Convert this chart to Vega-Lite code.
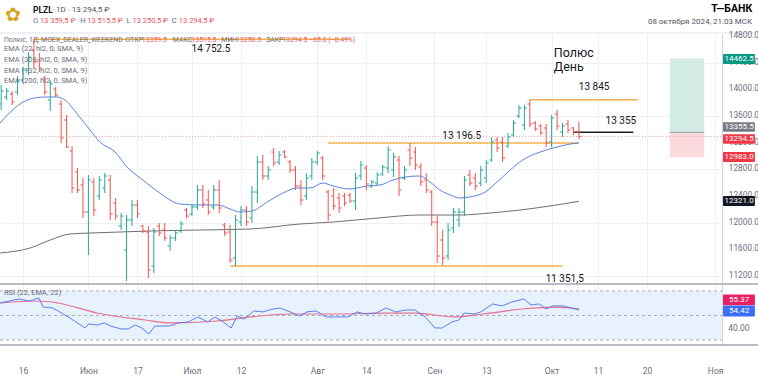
{
"$schema": "https://vega.github.io/schema/vega-lite/v6.json",
"width": 722, "height": 312,
"autosize": {"type": "none"},
"padding": {"left": 0, "top": 33, "right": 36, "bottom": 36},
"background": "white",
"config": {"view": {"stroke": null}, "font": "Roboto", "axis": {"labelOverlap": false, "labelBound": false, "labelFlush": false}},
"data": {"values": [{}]},
"datasets": {
"ticks": [{"v":11200},{"v":11600},{"v":12000},{"v":12400},{"v":12800},{"v":13200},{"v":13600},{"v":14000},{"v":14400},{"v":14800}],
"bars": [
{"i":-4,"o":13780,"h":14065,"l":13690,"c":13975},{"i":-3,"o":13885,"h":14020,"l":13840,"c":13975},{"i":-2,"o":13930,"h":13975,"l":13765,"c":13810},{"i":-1,"o":13960,"h":14200,"l":13915,"c":14140},{"i":0,"o":14140,"h":14335,"l":14095,"c":14290},{"i":1,"o":14290,"h":14560,"l":14215,"c":14485},{"i":2,"o":14590,"h":14752.5,"l":14320,"c":14410},{"i":3,"o":14440,"h":14545,"l":14260,"c":14320},{"i":4,"o":14170,"h":14200,"l":13915,"c":13960},{"i":5,"o":13840,"h":14140,"l":13675,"c":14080},
{"i":6,"o":14005,"h":14035,"l":13885,"c":13915},{"i":7,"o":13780,"h":13840,"l":13195,"c":13270},{"i":8,"o":13540,"h":13615,"l":13120,"c":13135},{"i":9,"o":13075,"h":13150,"l":12445,"c":12520},{"i":10,"o":12760,"h":12820,"l":12445,"c":12490},{"i":11,"o":12565,"h":12670,"l":12070,"c":12160},{"i":12,"o":12160,"h":12715,"l":11515,"c":12640},{"i":13,"o":12610,"h":12670,"l":12100,"c":12190},{"i":14,"o":12400,"h":12700,"l":12340,"c":12640},{"i":15,"o":12520,"h":12745,"l":12445,"c":12700},
{"i":16,"o":12640,"h":12715,"l":12040,"c":12130},{"i":17,"o":12295,"h":12370,"l":12040,"c":12100},{"i":18,"o":11950,"h":12145,"l":11890,"c":12100},{"i":19,"o":11590,"h":12115,"l":11125,"c":12040},{"i":20,"o":12040,"h":12340,"l":11950,"c":12265},{"i":21,"o":12265,"h":12340,"l":12070,"c":12130},{"i":22,"o":11950,"h":11965,"l":11845,"c":11875},{"i":23,"o":11860,"h":11950,"l":11170,"c":11290},{"i":24,"o":11350,"h":11920,"l":11245,"c":11860},{"i":25,"o":11950,"h":11995,"l":11800,"c":11845},
{"i":26,"o":11890,"h":11995,"l":11725,"c":11770},{"i":27,"o":11650,"h":11815,"l":11575,"c":11770},{"i":28,"o":11770,"h":11890,"l":11725,"c":11845},{"i":29,"o":11875,"h":12025,"l":11845,"c":11980},{"i":30,"o":12190,"h":12220,"l":12070,"c":12100},{"i":31,"o":12130,"h":12265,"l":12100,"c":12235},{"i":32,"o":12235,"h":12565,"l":12190,"c":12490},{"i":33,"o":12490,"h":12565,"l":12220,"c":12280},{"i":34,"o":12340,"h":12490,"l":12115,"c":12160},{"i":35,"o":12235,"h":12565,"l":12190,"c":12490},
{"i":36,"o":12490,"h":12640,"l":12145,"c":12220},{"i":37,"o":11965,"h":11995,"l":11800,"c":11845},{"i":38,"o":11860,"h":11965,"l":11395,"c":11440},{"i":39,"o":11470,"h":12115,"l":11351.5,"c":12040},{"i":40,"o":12010,"h":12250,"l":11950,"c":12190},{"i":41,"o":12190,"h":12250,"l":11950,"c":12010},{"i":42,"o":12070,"h":12550,"l":11995,"c":12460},{"i":43,"o":12460,"h":13000,"l":12295,"c":12910},{"i":44,"o":12910,"h":13015,"l":12640,"c":12700},{"i":45,"o":12700,"h":12850,"l":12640,"c":12790},
{"i":46,"o":13060,"h":13120,"l":12850,"c":12895},{"i":47,"o":12910,"h":13075,"l":12865,"c":13015},{"i":48,"o":13060,"h":13090,"l":12970,"c":12985},{"i":49,"o":12910,"h":12940,"l":12745,"c":12790},{"i":50,"o":12790,"h":12850,"l":12490,"c":12550},{"i":51,"o":12550,"h":12640,"l":12265,"c":12340},{"i":52,"o":12400,"h":12745,"l":12340,"c":12670},{"i":53,"o":12700,"h":12970,"l":12640,"c":12910},{"i":54,"o":12910,"h":13075,"l":12865,"c":13045},{"i":55,"o":12970,"h":13000,"l":12640,"c":12700},
{"i":56,"o":12460,"h":12490,"l":12025,"c":12115},{"i":57,"o":12400,"h":12520,"l":12190,"c":12250},{"i":58,"o":12370,"h":12445,"l":12145,"c":12220},{"i":59,"o":12400,"h":12445,"l":12250,"c":12295},{"i":60,"o":12415,"h":12445,"l":12295,"c":12325},{"i":61,"o":12325,"h":12745,"l":12190,"c":12670},{"i":62,"o":12700,"h":12925,"l":12640,"c":12865},{"i":63,"o":12820,"h":12865,"l":12490,"c":12580},{"i":64,"o":12550,"h":12640,"l":12520,"c":12610},{"i":65,"o":12595,"h":12760,"l":12565,"c":12715},
{"i":66,"o":12730,"h":12865,"l":12700,"c":12835},{"i":67,"o":12820,"h":13150,"l":12745,"c":13090},{"i":68,"o":12790,"h":13045,"l":12685,"c":12985},{"i":69,"o":12940,"h":13000,"l":12400,"c":12490},{"i":70,"o":12670,"h":12850,"l":12640,"c":12790},{"i":71,"o":13090,"h":13195,"l":12850,"c":12970},{"i":72,"o":13060,"h":13135,"l":12790,"c":12865},{"i":73,"o":12835,"h":12895,"l":12550,"c":12610},{"i":74,"o":12640,"h":12745,"l":12445,"c":12490},{"i":75,"o":12460,"h":12490,"l":11950,"c":12010},
{"i":76,"o":12010,"h":12100,"l":11395,"c":11500},{"i":77,"o":11740,"h":11890,"l":11360,"c":11470},{"i":78,"o":11500,"h":11995,"l":11440,"c":11890},{"i":79,"o":11920,"h":12220,"l":11845,"c":12160},{"i":80,"o":12040,"h":12220,"l":11935,"c":12160},{"i":81,"o":12160,"h":12700,"l":12100,"c":12640},{"i":82,"o":12715,"h":12790,"l":12550,"c":12595},{"i":83,"o":12670,"h":12745,"l":12490,"c":12550},{"i":84,"o":12595,"h":12850,"l":12550,"c":12790},{"i":85,"o":12670,"h":12940,"l":12595,"c":12895},
{"i":86,"o":12940,"h":13285,"l":12910,"c":13210},{"i":87,"o":13240,"h":13285,"l":13060,"c":13120},{"i":88,"o":13210,"h":13285,"l":12910,"c":12970},{"i":89,"o":13150,"h":13345,"l":13120,"c":13285},{"i":90,"o":13315,"h":13540,"l":13285,"c":13495},{"i":91,"o":13600,"h":13765,"l":13570,"c":13720},{"i":92,"o":13465,"h":13765,"l":13390,"c":13720},{"i":93,"o":13780,"h":13845,"l":13435,"c":13480},{"i":94,"o":13495,"h":13525,"l":13375,"c":13405},{"i":95,"o":13450,"h":13480,"l":13315,"c":13345},
{"i":96,"o":13420,"h":13480,"l":13135,"c":13195},{"i":97,"o":13210,"h":13615,"l":13135,"c":13570},{"i":98,"o":13630,"h":13690,"l":13390,"c":13450},{"i":99,"o":13360,"h":13495,"l":13285,"c":13450},{"i":100,"o":13480,"h":13540,"l":13345,"c":13390},{"i":101,"o":13420,"h":13435,"l":13315,"c":13360},{"i":102,"o":13359.5,"h":13515.5,"l":13250.5,"c":13294.5}
],
"ema22": [{"i":-4.2,"p":13495},{"i":-1.5,"p":13720},{"i":1.3,"p":13855},{"i":4,"p":13885},{"i":6.2,"p":13885},{"i":7.7,"p":13840},{"i":10.1,"p":13615},{"i":12.3,"p":13390},{"i":14.1,"p":13210},{"i":16.9,"p":13060},{"i":19.1,"p":12835},{"i":22,"p":12640},{"i":25.1,"p":12445},{"i":28.8,"p":12280},{"i":32.5,"p":12265},{"i":35.8,"p":12265},{"i":38,"p":12205},{"i":39.8,"p":12160},{"i":42,"p":12175},{"i":44.8,"p":12310},{"i":47.7,"p":12445},{"i":50.3,"p":12520},{"i":52.7,"p":12520},{"i":55,"p":12595},{"i":56.9,"p":12550},{"i":60,"p":12505},{"i":63.1,"p":12550},{"i":65.5,"p":12565},{"i":67.9,"p":12640},{"i":70.1,"p":12685},{"i":72.8,"p":12700},{"i":74.7,"p":12610},{"i":76.5,"p":12490},{"i":78.4,"p":12415},{"i":80.2,"p":12370},{"i":82,"p":12385},{"i":84.8,"p":12460},{"i":87,"p":12610},{"i":89.4,"p":12790},{"i":91.7,"p":12940},{"i":94.9,"p":13060},{"i":98,"p":13135},{"i":100.4,"p":13180},{"i":102,"p":13195}],
"ema200": [{"i":-4.2,"p":11545},{"i":1.3,"p":11620},{"i":5,"p":11740},{"i":8.6,"p":11830},{"i":12.3,"p":11845},{"i":17.8,"p":11860},{"i":23.3,"p":11875},{"i":32.5,"p":11890},{"i":41.7,"p":11905},{"i":50.8,"p":11980},{"i":56.9,"p":12010},{"i":65.1,"p":12070},{"i":72.8,"p":12115},{"i":80.2,"p":12115},{"i":85.7,"p":12145},{"i":91.2,"p":12190},{"i":96.7,"p":12250},{"i":102,"p":12321}],
"rsi": [{"i":-4.2,"v":60.2},{"i":-0.7,"v":63.5},{"i":1.1,"v":61.8},{"i":2.9,"v":64.3},{"i":3.7,"v":56.9},{"i":5.5,"v":56.1},{"i":8.3,"v":48.8},{"i":11.4,"v":39.8},{"i":12.1,"v":43.1},{"i":13.6,"v":42.2},{"i":14.9,"v":43.9},{"i":16.1,"v":41.4},{"i":18,"v":39},{"i":19.3,"v":39},{"i":20.6,"v":42.2},{"i":21.8,"v":39.8},{"i":23.1,"v":34.9},{"i":24.2,"v":41.4},{"i":26.8,"v":41.4},{"i":28.6,"v":43.9},{"i":30.3,"v":44.7},{"i":32.1,"v":48.8},{"i":33.9,"v":44.7},{"i":35.2,"v":48.8},{"i":36.5,"v":45.5},{"i":38.2,"v":39.8},{"i":39.3,"v":49.6},{"i":40.6,"v":47.1},{"i":42.4,"v":53.7},{"i":44,"v":52.9},{"i":45.9,"v":55.3},{"i":47.2,"v":56.1},{"i":49,"v":52.9},{"i":50.8,"v":49.6},{"i":52.1,"v":52.9},{"i":53.8,"v":53.7},{"i":55.6,"v":48.8},{"i":57.6,"v":48.8},{"i":59.6,"v":48.8},{"i":61.3,"v":52.9},{"i":62.8,"v":51.2},{"i":64.8,"v":52},{"i":66.6,"v":56.1},{"i":68.4,"v":52.9},{"i":70.3,"v":54.5},{"i":71.9,"v":54.5},{"i":73.8,"v":48.8},{"i":75.6,"v":39.8},{"i":76.9,"v":39.8},{"i":78.7,"v":44.7},{"i":80,"v":46.3},{"i":80.9,"v":52},{"i":82.8,"v":51.2},{"i":84,"v":52.9},{"i":86.2,"v":59.4},{"i":87.9,"v":57.8},{"i":89.7,"v":61},{"i":91.9,"v":63.5},{"i":93.2,"v":58.6},{"i":94.7,"v":59.4},{"i":96,"v":55.3},{"i":97.2,"v":57.8},{"i":99.1,"v":57.8},{"i":102,"v":54.42}],
"rsiema": [{"i":-4.2,"v":60.2},{"i":2.9,"v":61.8},{"i":6.4,"v":60.2},{"i":13.6,"v":52},{"i":22.4,"v":46.3},{"i":26.8,"v":43.9},{"i":35.6,"v":45.5},{"i":41.8,"v":48.8},{"i":49,"v":51.2},{"i":57.8,"v":51.2},{"i":66.6,"v":52},{"i":71.9,"v":52},{"i":79.1,"v":48.8},{"i":84.4,"v":51.2},{"i":91.6,"v":55.3},{"i":97.8,"v":56.9},{"i":102,"v":55.37}]
},
"resolve": {"scale": {"y": "independent"}},
"layer": [
{
"layer": [
{"data": {"name": "bars"}, "mark": {"type": "rule", "opacity": 0},
 "encoding": {
  "x": {"field": "i", "type": "quantitative", "scale": {"domain": [-4.22, 128.26], "nice": false, "zero": false},
   "axis": {"values": [0, 12, 21, 31, 40, 54, 63, 75.5, 85, 97, 105.5, 114.5, 127], "labelExpr": "datum.value==0?'16':datum.value==12?'Июн':datum.value==21?'17':datum.value==31?'Июл':datum.value==40?'12':datum.value==54?'Авг':datum.value==63?'14':datum.value==75.5?'Сен':datum.value==85?'13':datum.value==97?'Окт':datum.value==105.5?'11':datum.value==114.5?'20':'Ноя'", "title": null, "grid": true, "gridColor": "#eef0f4", "domain": false, "ticks": false, "labelPadding": 21, "labelFontSize": 8.5, "labelColor": "#6a6d78", "labelFlush": false, "labelOverlap": false, "zindex": 0}},
  "y": {"field": "h", "type": "quantitative", "scale": {"domain": [10165, 14845], "nice": false, "zero": false},
   "axis": {"orient": "right", "values": [11200, 11600, 12000, 12400, 12800, 13200, 13600, 14000, 14400, 14800], "labels": false, "title": null, "grid": true, "gridColor": "#eef0f4", "domainColor": "#d1d4dc", "ticks": false, "zindex": 0}}}},
{"mark": {"type": "rect", "color": "#d2ebe5"},
 "encoding": {"x": {"datum": 118.7, "type": "quantitative", "scale": {"domain": [-4.22, 128.26], "nice": false, "zero": false}}, "x2": {"datum": 125}, "y": {"datum": 13355.5, "type": "quantitative", "scale": {"domain": [10165, 14845], "nice": false, "zero": false}}, "y2": {"datum": 14462.5}}},
{"mark": {"type": "rect", "color": "#fcd9dc"},
 "encoding": {"x": {"datum": 118.7, "type": "quantitative", "scale": {"domain": [-4.22, 128.26], "nice": false, "zero": false}}, "x2": {"datum": 125}, "y": {"datum": 12983, "type": "quantitative", "scale": {"domain": [10165, 14845], "nice": false, "zero": false}}, "y2": {"datum": 13355.5}}},
{"mark": {"type": "rule", "color": "#9598a1", "strokeWidth": 1},
 "encoding": {"x": {"datum": 118.7, "type": "quantitative", "scale": {"domain": [-4.22, 128.26], "nice": false, "zero": false}}, "x2": {"datum": 125}, "y": {"datum": 13355.5, "type": "quantitative", "scale": {"domain": [10165, 14845], "nice": false, "zero": false}}}},
{"mark": {"type": "rule", "color": "#f29ba3", "strokeWidth": 1, "strokeDash": [1, 2]},
 "encoding": {"x": {"datum": -4.22, "type": "quantitative", "scale": {"domain": [-4.22, 128.26], "nice": false, "zero": false}}, "x2": {"datum": 128.26}, "y": {"datum": 13294.5, "type": "quantitative", "scale": {"domain": [10165, 14845], "nice": false, "zero": false}}}},
{"mark": {"type": "rule", "color": "#f5b04b", "strokeWidth": 1.5},
 "encoding": {"x": {"datum": 2, "type": "quantitative", "scale": {"domain": [-4.22, 128.26], "nice": false, "zero": false}}, "x2": {"datum": 60}, "y": {"datum": 14752.5, "type": "quantitative", "scale": {"domain": [10165, 14845], "nice": false, "zero": false}}}},
{"mark": {"type": "rule", "color": "#f5b04b", "strokeWidth": 1.5},
 "encoding": {"x": {"datum": 56, "type": "quantitative", "scale": {"domain": [-4.22, 128.26], "nice": false, "zero": false}}, "x2": {"datum": 102}, "y": {"datum": 13196.5, "type": "quantitative", "scale": {"domain": [10165, 14845], "nice": false, "zero": false}}}},
{"mark": {"type": "rule", "color": "#f5b04b", "strokeWidth": 1.5},
 "encoding": {"x": {"datum": 38, "type": "quantitative", "scale": {"domain": [-4.22, 128.26], "nice": false, "zero": false}}, "x2": {"datum": 99}, "y": {"datum": 11351.5, "type": "quantitative", "scale": {"domain": [10165, 14845], "nice": false, "zero": false}}}},
{"mark": {"type": "rule", "color": "#f5b04b", "strokeWidth": 1.5},
 "encoding": {"x": {"datum": 93, "type": "quantitative", "scale": {"domain": [-4.22, 128.26], "nice": false, "zero": false}}, "x2": {"datum": 112.8}, "y": {"datum": 13845, "type": "quantitative", "scale": {"domain": [10165, 14845], "nice": false, "zero": false}}}},
{"mark": {"type": "rule", "color": "#1e1e1e", "strokeWidth": 1.5},
 "encoding": {"x": {"datum": 101, "type": "quantitative", "scale": {"domain": [-4.22, 128.26], "nice": false, "zero": false}}, "x2": {"datum": 112}, "y": {"datum": 13355, "type": "quantitative", "scale": {"domain": [10165, 14845], "nice": false, "zero": false}}}},
{"data": {"name": "ema200"}, "mark": {"type": "line", "color": "#6f6f6f", "strokeWidth": 1, "interpolate": "monotone"},
 "encoding": {"x": {"field": "i", "type": "quantitative", "scale": {"domain": [-4.22, 128.26], "nice": false, "zero": false}}, "y": {"field": "p", "type": "quantitative", "scale": {"domain": [10165, 14845], "nice": false, "zero": false}}}},
{"data": {"name": "ema22"}, "mark": {"type": "line", "color": "#5a82e0", "strokeWidth": 1, "interpolate": "monotone"},
 "encoding": {"x": {"field": "i", "type": "quantitative", "scale": {"domain": [-4.22, 128.26], "nice": false, "zero": false}}, "y": {"field": "p", "type": "quantitative", "scale": {"domain": [10165, 14845], "nice": false, "zero": false}}}},
{"data": {"name": "bars"}, "mark": {"type": "rule", "strokeWidth": 1},
 "encoding": {
  "x": {"field": "i", "type": "quantitative", "scale": {"domain": [-4.22, 128.26], "nice": false, "zero": false}},
  "y": {"field": "h", "type": "quantitative", "scale": {"domain": [10165, 14845], "nice": false, "zero": false}},
  "y2": {"field": "l"},
  "color": {"condition": {"test": "datum.c >= datum.o", "value": "#26a69a"}, "value": "#ef5350"}}},
{"data": {"name": "bars"}, "mark": {"type": "rule", "strokeWidth": 1, "xOffset": -2.5, "x2Offset": 0},
 "encoding": {"x": {"field": "i", "type": "quantitative", "scale": {"domain": [-4.22, 128.26], "nice": false, "zero": false}}, "x2": {"field": "i"}, "y": {"field": "o", "type": "quantitative", "scale": {"domain": [10165, 14845], "nice": false, "zero": false}},
  "color": {"condition": {"test": "datum.c >= datum.o", "value": "#26a69a"}, "value": "#ef5350"}}},
{"data": {"name": "bars"}, "mark": {"type": "rule", "strokeWidth": 1, "xOffset": 0, "x2Offset": 2.5},
 "encoding": {"x": {"field": "i", "type": "quantitative", "scale": {"domain": [-4.22, 128.26], "nice": false, "zero": false}}, "x2": {"field": "i"}, "y": {"field": "c", "type": "quantitative", "scale": {"domain": [10165, 14845], "nice": false, "zero": false}},
  "color": {"condition": {"test": "datum.c >= datum.o", "value": "#26a69a"}, "value": "#ef5350"}}},
{"mark": {"type": "rule", "color": "#e0e3eb", "strokeWidth": 1},
 "encoding": {"x": {"datum": -4.22, "type": "quantitative", "scale": {"domain": [-4.22, 128.26], "nice": false, "zero": false}}, "x2": {"datum": 134.9}, "y": {"datum": 14845, "type": "quantitative", "scale": {"domain": [10165, 14845], "nice": false, "zero": false}}}},
{"mark": {"type": "rule", "color": "#a3a6af", "strokeWidth": 1.5},
 "encoding": {"x": {"datum": -4.22, "type": "quantitative", "scale": {"domain": [-4.22, 128.26], "nice": false, "zero": false}}, "x2": {"datum": 134.9}, "y": {"datum": 11080, "type": "quantitative", "scale": {"domain": [10165, 14845], "nice": false, "zero": false}}}},
{"mark": {"type": "rule", "color": "#a3a6af", "strokeWidth": 1.5},
 "encoding": {"x": {"datum": -4.22, "type": "quantitative", "scale": {"domain": [-4.22, 128.26], "nice": false, "zero": false}}, "x2": {"datum": 134.9}, "y": {"datum": 10165, "type": "quantitative", "scale": {"domain": [10165, 14845], "nice": false, "zero": false}}}},
{"data": {"name": "ticks"}, "mark": {"type": "text", "fontSize": 8.3, "color": "#6a6d78", "align": "left", "baseline": "middle"},
 "encoding": {"x": {"datum": 129.5, "type": "quantitative", "scale": {"domain": [-4.22, 128.26], "nice": false, "zero": false}}, "y": {"field": "v", "type": "quantitative", "scale": {"domain": [10165, 14845], "nice": false, "zero": false}}, "text": {"field": "v", "type": "quantitative", "format": ".1f"}}},
{"mark": {"type": "text", "text": "✿", "fontSize": 19, "color": "#d9a520", "align": "center", "baseline": "middle"},
 "encoding": {"x": {"datum": -1.83, "type": "quantitative", "scale": {"domain": [-4.22, 128.26], "nice": false, "zero": false}}, "y": {"datum": 15115, "type": "quantitative", "scale": {"domain": [10165, 14845], "nice": false, "zero": false}}}},
{"mark": {"type": "text", "text": "PLZL", "fontSize": 8.5, "fontWeight": "bold", "color": "#131722", "align": "left", "baseline": "middle"},
 "encoding": {"x": {"datum": 1.83, "type": "quantitative", "scale": {"domain": [-4.22, 128.26], "nice": false, "zero": false}}, "y": {"datum": 15190, "type": "quantitative", "scale": {"domain": [10165, 14845], "nice": false, "zero": false}}}},
{"mark": {"type": "text", "text": "· 1D · 13 294,5 ₽", "fontSize": 8, "color": "#50535e", "align": "left", "baseline": "middle"},
 "encoding": {"x": {"datum": 5.3, "type": "quantitative", "scale": {"domain": [-4.22, 128.26], "nice": false, "zero": false}}, "y": {"datum": 15190, "type": "quantitative", "scale": {"domain": [10165, 14845], "nice": false, "zero": false}}}},
{"mark": {"type": "text", "text": "O", "fontSize": 7.5, "color": "#5d6b8a", "align": "left", "baseline": "middle"},
 "encoding": {"x": {"datum": 1.83, "type": "quantitative", "scale": {"domain": [-4.22, 128.26], "nice": false, "zero": false}}, "y": {"datum": 15025, "type": "quantitative", "scale": {"domain": [10165, 14845], "nice": false, "zero": false}}}},
{"mark": {"type": "text", "text": "13 359,5 ₽", "fontSize": 7.5, "color": "#e8535f", "align": "left", "baseline": "middle"},
 "encoding": {"x": {"datum": 3.1, "type": "quantitative", "scale": {"domain": [-4.22, 128.26], "nice": false, "zero": false}}, "y": {"datum": 15025, "type": "quantitative", "scale": {"domain": [10165, 14845], "nice": false, "zero": false}}}},
{"mark": {"type": "text", "text": "H", "fontSize": 7.5, "color": "#5d6b8a", "align": "left", "baseline": "middle"},
 "encoding": {"x": {"datum": 10.5, "type": "quantitative", "scale": {"domain": [-4.22, 128.26], "nice": false, "zero": false}}, "y": {"datum": 15025, "type": "quantitative", "scale": {"domain": [10165, 14845], "nice": false, "zero": false}}}},
{"mark": {"type": "text", "text": "13 515,5 ₽", "fontSize": 7.5, "color": "#e8535f", "align": "left", "baseline": "middle"},
 "encoding": {"x": {"datum": 11.8, "type": "quantitative", "scale": {"domain": [-4.22, 128.26], "nice": false, "zero": false}}, "y": {"datum": 15025, "type": "quantitative", "scale": {"domain": [10165, 14845], "nice": false, "zero": false}}}},
{"mark": {"type": "text", "text": "L", "fontSize": 7.5, "color": "#5d6b8a", "align": "left", "baseline": "middle"},
 "encoding": {"x": {"datum": 19, "type": "quantitative", "scale": {"domain": [-4.22, 128.26], "nice": false, "zero": false}}, "y": {"datum": 15025, "type": "quantitative", "scale": {"domain": [10165, 14845], "nice": false, "zero": false}}}},
{"mark": {"type": "text", "text": "13 250,5 ₽", "fontSize": 7.5, "color": "#e8535f", "align": "left", "baseline": "middle"},
 "encoding": {"x": {"datum": 20.1, "type": "quantitative", "scale": {"domain": [-4.22, 128.26], "nice": false, "zero": false}}, "y": {"datum": 15025, "type": "quantitative", "scale": {"domain": [10165, 14845], "nice": false, "zero": false}}}},
{"mark": {"type": "text", "text": "C", "fontSize": 7.5, "color": "#5d6b8a", "align": "left", "baseline": "middle"},
 "encoding": {"x": {"datum": 27.3, "type": "quantitative", "scale": {"domain": [-4.22, 128.26], "nice": false, "zero": false}}, "y": {"datum": 15025, "type": "quantitative", "scale": {"domain": [10165, 14845], "nice": false, "zero": false}}}},
{"mark": {"type": "text", "text": "13 294,5 ₽", "fontSize": 7.5, "color": "#e8535f", "align": "left", "baseline": "middle"},
 "encoding": {"x": {"datum": 28.6, "type": "quantitative", "scale": {"domain": [-4.22, 128.26], "nice": false, "zero": false}}, "y": {"datum": 15025, "type": "quantitative", "scale": {"domain": [10165, 14845], "nice": false, "zero": false}}}},
{"mark": {"type": "text", "text": "Т—БАНК", "fontSize": 10.5, "fontWeight": "bold", "color": "#000000", "align": "right", "baseline": "middle"},
 "encoding": {"x": {"datum": 133.8, "type": "quantitative", "scale": {"domain": [-4.22, 128.26], "nice": false, "zero": false}}, "y": {"datum": 15205, "type": "quantitative", "scale": {"domain": [10165, 14845], "nice": false, "zero": false}}}},
{"mark": {"type": "text", "text": "08 октября 2024, 21:03 МСК", "fontSize": 8, "color": "#50535e", "align": "right", "baseline": "middle"},
 "encoding": {"x": {"datum": 133.8, "type": "quantitative", "scale": {"domain": [-4.22, 128.26], "nice": false, "zero": false}}, "y": {"datum": 15010, "type": "quantitative", "scale": {"domain": [10165, 14845], "nice": false, "zero": false}}}},
{"mark": {"type": "text", "text": "Полюс, 1Д, MOEX_DEALER_WEEKEND", "fontSize": 6.9, "color": "#6a6d78", "align": "left", "baseline": "middle"},
 "encoding": {"x": {"datum": -3.5, "type": "quantitative", "scale": {"domain": [-4.22, 128.26], "nice": false, "zero": false}}, "y": {"datum": 14740, "type": "quantitative", "scale": {"domain": [10165, 14845], "nice": false, "zero": false}}}},
{"mark": {"type": "text", "text": "ОТКР", "fontSize": 6.9, "color": "#6a6d78", "align": "left", "baseline": "middle"},
 "encoding": {"x": {"datum": 18.8, "type": "quantitative", "scale": {"domain": [-4.22, 128.26], "nice": false, "zero": false}}, "y": {"datum": 14740, "type": "quantitative", "scale": {"domain": [10165, 14845], "nice": false, "zero": false}}}},
{"mark": {"type": "text", "text": "13359.5", "fontSize": 6.9, "color": "#e8606b", "align": "left", "baseline": "middle"},
 "encoding": {"x": {"datum": 21.8, "type": "quantitative", "scale": {"domain": [-4.22, 128.26], "nice": false, "zero": false}}, "y": {"datum": 14740, "type": "quantitative", "scale": {"domain": [10165, 14845], "nice": false, "zero": false}}}},
{"mark": {"type": "text", "text": "МАКС", "fontSize": 6.9, "color": "#6a6d78", "align": "left", "baseline": "middle"},
 "encoding": {"x": {"datum": 27.5, "type": "quantitative", "scale": {"domain": [-4.22, 128.26], "nice": false, "zero": false}}, "y": {"datum": 14740, "type": "quantitative", "scale": {"domain": [10165, 14845], "nice": false, "zero": false}}}},
{"mark": {"type": "text", "text": "13515.5", "fontSize": 6.9, "color": "#e8606b", "align": "left", "baseline": "middle"},
 "encoding": {"x": {"datum": 30.9, "type": "quantitative", "scale": {"domain": [-4.22, 128.26], "nice": false, "zero": false}}, "y": {"datum": 14740, "type": "quantitative", "scale": {"domain": [10165, 14845], "nice": false, "zero": false}}}},
{"mark": {"type": "text", "text": "МИН", "fontSize": 6.9, "color": "#6a6d78", "align": "left", "baseline": "middle"},
 "encoding": {"x": {"datum": 36.4, "type": "quantitative", "scale": {"domain": [-4.22, 128.26], "nice": false, "zero": false}}, "y": {"datum": 14740, "type": "quantitative", "scale": {"domain": [10165, 14845], "nice": false, "zero": false}}}},
{"mark": {"type": "text", "text": "13250.5", "fontSize": 6.9, "color": "#e8606b", "align": "left", "baseline": "middle"},
 "encoding": {"x": {"datum": 39.1, "type": "quantitative", "scale": {"domain": [-4.22, 128.26], "nice": false, "zero": false}}, "y": {"datum": 14740, "type": "quantitative", "scale": {"domain": [10165, 14845], "nice": false, "zero": false}}}},
{"mark": {"type": "text", "text": "ЗАКР", "fontSize": 6.9, "color": "#6a6d78", "align": "left", "baseline": "middle"},
 "encoding": {"x": {"datum": 44.6, "type": "quantitative", "scale": {"domain": [-4.22, 128.26], "nice": false, "zero": false}}, "y": {"datum": 14740, "type": "quantitative", "scale": {"domain": [10165, 14845], "nice": false, "zero": false}}}},
{"mark": {"type": "text", "text": "13294.5  −65.0 (−0.49%)", "fontSize": 6.9, "color": "#e8606b", "align": "left", "baseline": "middle"},
 "encoding": {"x": {"datum": 47.6, "type": "quantitative", "scale": {"domain": [-4.22, 128.26], "nice": false, "zero": false}}, "y": {"datum": 14740, "type": "quantitative", "scale": {"domain": [10165, 14845], "nice": false, "zero": false}}}},
{"mark": {"type": "text", "text": "EMA (22, hl2, 0, SMA, 9)", "fontSize": 7.5, "color": "#6a6d78", "align": "left", "baseline": "middle"},
 "encoding": {"x": {"datum": -3.5, "type": "quantitative", "scale": {"domain": [-4.22, 128.26], "nice": false, "zero": false}}, "y": {"datum": 14605, "type": "quantitative", "scale": {"domain": [10165, 14845], "nice": false, "zero": false}}}},
{"mark": {"type": "text", "text": "EMA (308, hl2, 0, SMA, 9)", "fontSize": 7.5, "color": "#6a6d78", "align": "left", "baseline": "middle"},
 "encoding": {"x": {"datum": -3.5, "type": "quantitative", "scale": {"domain": [-4.22, 128.26], "nice": false, "zero": false}}, "y": {"datum": 14440, "type": "quantitative", "scale": {"domain": [10165, 14845], "nice": false, "zero": false}}}},
{"mark": {"type": "text", "text": "EMA (132, hl2, 0, SMA, 9)", "fontSize": 7.5, "color": "#6a6d78", "align": "left", "baseline": "middle"},
 "encoding": {"x": {"datum": -3.5, "type": "quantitative", "scale": {"domain": [-4.22, 128.26], "nice": false, "zero": false}}, "y": {"datum": 14282, "type": "quantitative", "scale": {"domain": [10165, 14845], "nice": false, "zero": false}}}},
{"mark": {"type": "text", "text": "EMA (200, hl2, 0, SMA, 9)", "fontSize": 7.5, "color": "#6a6d78", "align": "left", "baseline": "middle"},
 "encoding": {"x": {"datum": -3.5, "type": "quantitative", "scale": {"domain": [-4.22, 128.26], "nice": false, "zero": false}}, "y": {"datum": 14125, "type": "quantitative", "scale": {"domain": [10165, 14845], "nice": false, "zero": false}}}},
{"mark": {"type": "text", "text": "14 752.5", "fontSize": 10, "color": "#131722", "align": "center", "baseline": "middle"},
 "encoding": {"x": {"datum": 34.5, "type": "quantitative", "scale": {"domain": [-4.22, 128.26], "nice": false, "zero": false}}, "y": {"datum": 14605, "type": "quantitative", "scale": {"domain": [10165, 14845], "nice": false, "zero": false}}}},
{"mark": {"type": "text", "text": "13 196.5", "fontSize": 10, "color": "#131722", "align": "center", "baseline": "middle"},
 "encoding": {"x": {"datum": 80.5, "type": "quantitative", "scale": {"domain": [-4.22, 128.26], "nice": false, "zero": false}}, "y": {"datum": 13300, "type": "quantitative", "scale": {"domain": [10165, 14845], "nice": false, "zero": false}}}},
{"mark": {"type": "text", "text": "11 351,5", "fontSize": 10, "color": "#131722", "align": "center", "baseline": "middle"},
 "encoding": {"x": {"datum": 99.4, "type": "quantitative", "scale": {"domain": [-4.22, 128.26], "nice": false, "zero": false}}, "y": {"datum": 11160, "type": "quantitative", "scale": {"domain": [10165, 14845], "nice": false, "zero": false}}}},
{"mark": {"type": "text", "text": "13 845", "fontSize": 10, "color": "#131722", "align": "center", "baseline": "middle"},
 "encoding": {"x": {"datum": 104.8, "type": "quantitative", "scale": {"domain": [-4.22, 128.26], "nice": false, "zero": false}}, "y": {"datum": 14035, "type": "quantitative", "scale": {"domain": [10165, 14845], "nice": false, "zero": false}}}},
{"mark": {"type": "text", "text": "13 355", "fontSize": 10, "color": "#131722", "align": "center", "baseline": "middle"},
 "encoding": {"x": {"datum": 109.7, "type": "quantitative", "scale": {"domain": [-4.22, 128.26], "nice": false, "zero": false}}, "y": {"datum": 13525, "type": "quantitative", "scale": {"domain": [10165, 14845], "nice": false, "zero": false}}}},
{"mark": {"type": "text", "text": "Полюс", "fontSize": 12.5, "color": "#131722", "align": "left", "baseline": "middle"},
 "encoding": {"x": {"datum": 97.4, "type": "quantitative", "scale": {"domain": [-4.22, 128.26], "nice": false, "zero": false}}, "y": {"datum": 14545, "type": "quantitative", "scale": {"domain": [10165, 14845], "nice": false, "zero": false}}}},
{"mark": {"type": "text", "text": "День", "fontSize": 12.5, "color": "#131722", "align": "left", "baseline": "middle"},
 "encoding": {"x": {"datum": 97.4, "type": "quantitative", "scale": {"domain": [-4.22, 128.26], "nice": false, "zero": false}}, "y": {"datum": 14335, "type": "quantitative", "scale": {"domain": [10165, 14845], "nice": false, "zero": false}}}},
{"mark": {"type": "rect", "color": "#089981", "cornerRadius": 1},
 "encoding": {"x": {"datum": 128.45, "type": "quantitative", "scale": {"domain": [-4.22, 128.26], "nice": false, "zero": false}}, "x2": {"datum": 134.3}, "y": {"datum": 14380, "type": "quantitative", "scale": {"domain": [10165, 14845], "nice": false, "zero": false}}, "y2": {"datum": 14530}}},
{"mark": {"type": "rect", "color": "#787b86", "cornerRadius": 1},
 "encoding": {"x": {"datum": 128.45, "type": "quantitative", "scale": {"domain": [-4.22, 128.26], "nice": false, "zero": false}}, "x2": {"datum": 134.3}, "y": {"datum": 13362, "type": "quantitative", "scale": {"domain": [10165, 14845], "nice": false, "zero": false}}, "y2": {"datum": 13508}}},
{"mark": {"type": "rect", "color": "#f23645", "cornerRadius": 1},
 "encoding": {"x": {"datum": 128.45, "type": "quantitative", "scale": {"domain": [-4.22, 128.26], "nice": false, "zero": false}}, "x2": {"datum": 134.3}, "y": {"datum": 13182, "type": "quantitative", "scale": {"domain": [10165, 14845], "nice": false, "zero": false}}, "y2": {"datum": 13328}}},
{"mark": {"type": "rect", "color": "#f23645", "cornerRadius": 1},
 "encoding": {"x": {"datum": 128.45, "type": "quantitative", "scale": {"domain": [-4.22, 128.26], "nice": false, "zero": false}}, "x2": {"datum": 134.3}, "y": {"datum": 12910, "type": "quantitative", "scale": {"domain": [10165, 14845], "nice": false, "zero": false}}, "y2": {"datum": 13060}}},
{"mark": {"type": "rect", "color": "#131722", "cornerRadius": 1},
 "encoding": {"x": {"datum": 128.45, "type": "quantitative", "scale": {"domain": [-4.22, 128.26], "nice": false, "zero": false}}, "x2": {"datum": 134.3}, "y": {"datum": 12250, "type": "quantitative", "scale": {"domain": [10165, 14845], "nice": false, "zero": false}}, "y2": {"datum": 12400}}},
{"mark": {"type": "text", "text": "14462.5", "fontSize": 8, "color": "#ffffff", "align": "center", "baseline": "middle"},
 "encoding": {"x": {"datum": 131.4, "type": "quantitative", "scale": {"domain": [-4.22, 128.26], "nice": false, "zero": false}}, "y": {"datum": 14455, "type": "quantitative", "scale": {"domain": [10165, 14845], "nice": false, "zero": false}}}},
{"mark": {"type": "text", "text": "13355.5", "fontSize": 8, "color": "#ffffff", "align": "center", "baseline": "middle"},
 "encoding": {"x": {"datum": 131.4, "type": "quantitative", "scale": {"domain": [-4.22, 128.26], "nice": false, "zero": false}}, "y": {"datum": 13435, "type": "quantitative", "scale": {"domain": [10165, 14845], "nice": false, "zero": false}}}},
{"mark": {"type": "text", "text": "13294.5", "fontSize": 8, "color": "#ffffff", "align": "center", "baseline": "middle"},
 "encoding": {"x": {"datum": 131.4, "type": "quantitative", "scale": {"domain": [-4.22, 128.26], "nice": false, "zero": false}}, "y": {"datum": 13255, "type": "quantitative", "scale": {"domain": [10165, 14845], "nice": false, "zero": false}}}},
{"mark": {"type": "text", "text": "12983.0", "fontSize": 8, "color": "#ffffff", "align": "center", "baseline": "middle"},
 "encoding": {"x": {"datum": 131.4, "type": "quantitative", "scale": {"domain": [-4.22, 128.26], "nice": false, "zero": false}}, "y": {"datum": 12985, "type": "quantitative", "scale": {"domain": [10165, 14845], "nice": false, "zero": false}}}},
{"mark": {"type": "text", "text": "12321.0", "fontSize": 8, "color": "#ffffff", "align": "center", "baseline": "middle"},
 "encoding": {"x": {"datum": 131.4, "type": "quantitative", "scale": {"domain": [-4.22, 128.26], "nice": false, "zero": false}}, "y": {"datum": 12325, "type": "quantitative", "scale": {"domain": [10165, 14845], "nice": false, "zero": false}}}}
]
},
{
"layer": [
{"mark": {"type": "rect", "color": "#e3f0fc", "opacity": 0.85},
 "encoding": {"x": {"datum": -4.22, "type": "quantitative", "scale": {"domain": [-4.22, 128.26], "nice": false, "zero": false}}, "x2": {"datum": 128.26}, "y": {"datum": 30, "type": "quantitative", "scale": {"domain": [25.9, 280.6], "nice": false, "zero": false}, "axis": null}, "y2": {"datum": 70}}},
{"mark": {"type": "rule", "color": "#a8abb5", "strokeWidth": 1, "strokeDash": [3, 3]},
 "encoding": {"x": {"datum": -4.22, "type": "quantitative", "scale": {"domain": [-4.22, 128.26], "nice": false, "zero": false}}, "x2": {"datum": 128.26}, "y": {"datum": 70, "type": "quantitative", "scale": {"domain": [25.9, 280.6], "nice": false, "zero": false}, "axis": null}}},
{"mark": {"type": "rule", "color": "#a8abb5", "strokeWidth": 1, "strokeDash": [3, 3]},
 "encoding": {"x": {"datum": -4.22, "type": "quantitative", "scale": {"domain": [-4.22, 128.26], "nice": false, "zero": false}}, "x2": {"datum": 128.26}, "y": {"datum": 50, "type": "quantitative", "scale": {"domain": [25.9, 280.6], "nice": false, "zero": false}, "axis": null}}},
{"mark": {"type": "rule", "color": "#a8abb5", "strokeWidth": 1, "strokeDash": [3, 3]},
 "encoding": {"x": {"datum": -4.22, "type": "quantitative", "scale": {"domain": [-4.22, 128.26], "nice": false, "zero": false}}, "x2": {"datum": 128.26}, "y": {"datum": 30, "type": "quantitative", "scale": {"domain": [25.9, 280.6], "nice": false, "zero": false}, "axis": null}}},
{"data": {"name": "rsiema"}, "mark": {"type": "line", "color": "#e8708f", "strokeWidth": 1.2, "interpolate": "monotone"},
 "encoding": {"x": {"field": "i", "type": "quantitative", "scale": {"domain": [-4.22, 128.26], "nice": false, "zero": false}}, "y": {"field": "v", "type": "quantitative", "scale": {"domain": [25.9, 280.6], "nice": false, "zero": false}, "axis": null}}},
{"data": {"name": "rsi"}, "mark": {"type": "line", "color": "#5b7ef0", "strokeWidth": 1},
 "encoding": {"x": {"field": "i", "type": "quantitative", "scale": {"domain": [-4.22, 128.26], "nice": false, "zero": false}}, "y": {"field": "v", "type": "quantitative", "scale": {"domain": [25.9, 280.6], "nice": false, "zero": false}, "axis": null}}},
{"mark": {"type": "text", "text": "RSI (22, EMA, 22)", "fontSize": 7.5, "color": "#6a6d78", "align": "left", "baseline": "middle"},
 "encoding": {"x": {"datum": -3.5, "type": "quantitative", "scale": {"domain": [-4.22, 128.26], "nice": false, "zero": false}}, "y": {"datum": 68.4, "type": "quantitative", "scale": {"domain": [25.9, 280.6], "nice": false, "zero": false}, "axis": null}}},
{"mark": {"type": "text", "text": "40.00", "fontSize": 8.5, "color": "#6a6d78", "align": "left", "baseline": "middle"},
 "encoding": {"x": {"datum": 129.4, "type": "quantitative", "scale": {"domain": [-4.22, 128.26], "nice": false, "zero": false}}, "y": {"datum": 40, "type": "quantitative", "scale": {"domain": [25.9, 280.6], "nice": false, "zero": false}, "axis": null}}},
{"mark": {"type": "rect", "color": "#e91e63", "cornerRadius": 1},
 "encoding": {"x": {"datum": 128.45, "type": "quantitative", "scale": {"domain": [-4.22, 128.26], "nice": false, "zero": false}}, "x2": {"datum": 134.3}, "y": {"datum": 58.3, "type": "quantitative", "scale": {"domain": [25.9, 280.6], "nice": false, "zero": false}, "axis": null}, "y2": {"datum": 67.1}}},
{"mark": {"type": "rect", "color": "#3d6ef5", "cornerRadius": 1},
 "encoding": {"x": {"datum": 128.45, "type": "quantitative", "scale": {"domain": [-4.22, 128.26], "nice": false, "zero": false}}, "x2": {"datum": 134.3}, "y": {"datum": 49.2, "type": "quantitative", "scale": {"domain": [25.9, 280.6], "nice": false, "zero": false}, "axis": null}, "y2": {"datum": 58.1}}},
{"mark": {"type": "text", "text": "55.37", "fontSize": 8, "color": "#ffffff", "align": "center", "baseline": "middle"},
 "encoding": {"x": {"datum": 131.4, "type": "quantitative", "scale": {"domain": [-4.22, 128.26], "nice": false, "zero": false}}, "y": {"datum": 62.7, "type": "quantitative", "scale": {"domain": [25.9, 280.6], "nice": false, "zero": false}, "axis": null}}},
{"mark": {"type": "text", "text": "54.42", "fontSize": 8, "color": "#ffffff", "align": "center", "baseline": "middle"},
 "encoding": {"x": {"datum": 131.4, "type": "quantitative", "scale": {"domain": [-4.22, 128.26], "nice": false, "zero": false}}, "y": {"datum": 53.7, "type": "quantitative", "scale": {"domain": [25.9, 280.6], "nice": false, "zero": false}, "axis": null}}}
]
}
]
}
